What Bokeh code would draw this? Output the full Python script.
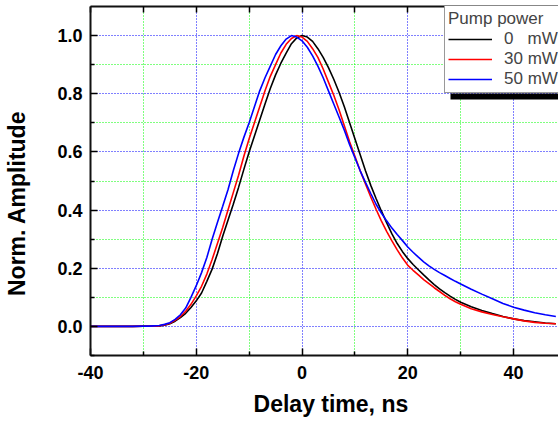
from bokeh.plotting import figure
from bokeh.models import (Range1d, FixedTicker, LinearAxis, Legend, LegendItem,
                          BoxAnnotation, CustomJSTickFormatter)
from bokeh.embed import file_html
from bokeh.resources import INLINE

# ---- data ----
delay_ns = [-40, -38, -36, -34, -32, -30, -29, -28,
            -27, -26, -25, -24, -23, -22, -21, -20, -19, -18, -17, -16, -15, -14,
            -13, -12, -11, -10, -9, -8, -7, -6, -5, -4, -3, -2, -1, 0,
            1, 2, 3, 4, 5, 6, 7, 8, 9, 10, 11, 12, 13, 14, 15, 16, 17, 18, 19, 20,
            21, 22, 23, 24, 25, 26, 27, 28, 29, 30,
            32, 34, 36, 38, 40, 42, 44, 46, 48]

amp_0mW = [0.0, 0.0, 0.0, 0.0, 0.0, 0.001, 0.001, 0.001,
           0.002, 0.004, 0.009, 0.018, 0.030, 0.045, 0.065, 0.088, 0.115, 0.155, 0.197, 0.25, 0.31, 0.365,
           0.42, 0.478, 0.54, 0.60, 0.655, 0.71, 0.765, 0.818, 0.865, 0.905, 0.94, 0.972, 0.992, 1.0,
           0.995, 0.98, 0.955, 0.925, 0.89, 0.85, 0.805, 0.755, 0.70, 0.645, 0.59, 0.535, 0.485, 0.44,
           0.397, 0.357, 0.318, 0.285, 0.257, 0.233,
           0.213, 0.195, 0.177, 0.16, 0.144, 0.129, 0.116, 0.104, 0.093, 0.083,
           0.068, 0.055, 0.044, 0.034, 0.026, 0.020, 0.016, 0.012, 0.009]

amp_30mW = [0.0, 0.0, 0.0, 0.0, 0.0, 0.001, 0.001, 0.001,
            0.002, 0.005, 0.011, 0.021, 0.034, 0.052, 0.076, 0.105, 0.138, 0.18, 0.23, 0.285, 0.34, 0.40,
            0.46, 0.52, 0.585, 0.645, 0.70, 0.755, 0.81, 0.86, 0.90, 0.94, 0.97, 0.99, 1.0, 0.995,
            0.98, 0.955, 0.925, 0.885, 0.84, 0.795, 0.745, 0.69, 0.635, 0.585, 0.535, 0.49, 0.445, 0.403,
            0.363, 0.327, 0.294, 0.263, 0.235, 0.21,
            0.193, 0.177, 0.161, 0.147, 0.133, 0.12, 0.107, 0.095, 0.085, 0.076,
            0.061, 0.05, 0.041, 0.033, 0.026, 0.019, 0.014, 0.011, 0.009]

amp_50mW = [0.0, 0.0, 0.0, 0.0, 0.0, 0.001, 0.001, 0.002,
            0.003, 0.007, 0.013, 0.024, 0.04, 0.063, 0.1, 0.14, 0.185, 0.237, 0.3, 0.357, 0.413, 0.47,
            0.535, 0.595, 0.65, 0.70, 0.755, 0.81, 0.855, 0.895, 0.935, 0.965, 0.988, 1.0, 0.995, 0.982,
            0.96, 0.93, 0.895, 0.855, 0.81, 0.765, 0.72, 0.675, 0.625, 0.58, 0.535, 0.495, 0.457, 0.42,
            0.39, 0.363, 0.338, 0.316, 0.295, 0.273,
            0.255, 0.238, 0.222, 0.208, 0.196, 0.185, 0.175, 0.165, 0.155, 0.146,
            0.128, 0.111, 0.095, 0.079, 0.066, 0.056, 0.047, 0.040, 0.034]

series_labels = ["0\u00a0\u00a0\u00a0mW", "30 mW", "50 mW"]
series_colors = ["#000000", "#ff0000", "#0000ff"]
x_major = [-40, -20, 0, 20, 40]
x_minor = [-30, -10, 10, 30]
x_top_ticks = [-40, -30, -20, -10, 0, 10, 20, 30, 40]
y_major = [0.0, 0.2, 0.4, 0.6, 0.8, 1.0]
y_minor = [-0.1, 0.1, 0.3, 0.5, 0.7, 0.9]
x_title = "\u00a0\u00a0Delay time, ns"
y_title = "Norm. Amplitude" + "\u00a0" * 7

FONT = "Liberation Sans"

p = figure(width=558, height=424, output_backend="svg", toolbar_location=None,
           x_range=Range1d(-40, 48.5), y_range=Range1d(-0.1, 1.1),
           min_border_left=90, min_border_right=0, min_border_top=6,
           min_border_bottom=69)
p.outline_line_color = None
p.background_fill_color = "white"
p.border_fill_color = "white"

xt = FixedTicker(ticks=x_major, minor_ticks=x_minor)
yt = FixedTicker(ticks=y_major, minor_ticks=y_minor)
p.xaxis.ticker = xt
p.yaxis.ticker = yt
p.xgrid.ticker = xt
p.ygrid.ticker = yt
p.xaxis.formatter = CustomJSTickFormatter(code="return tick.toFixed(0);")
p.yaxis.formatter = CustomJSTickFormatter(code="return tick.toFixed(1);")

for g in (p.xgrid, p.ygrid):
    g.grid_line_color = "#0000ff"
    g.grid_line_dash = "1 2"
    g.grid_line_width = 1
    g.minor_grid_line_color = "#00ff00"
    g.minor_grid_line_dash = "1 2"
    g.minor_grid_line_width = 1

for ax in (p.xaxis[0], p.yaxis[0]):
    ax.axis_line_width = 2
    ax.axis_line_color = "#111111"
    ax.major_tick_in = 7
    ax.major_tick_out = 0
    ax.minor_tick_in = 4
    ax.minor_tick_out = 0
    ax.major_tick_line_width = 1.5
    ax.minor_tick_line_width = 1.5
    ax.major_label_text_font = FONT
    ax.major_label_text_font_style = "bold"
    ax.major_label_text_font_size = "18px"
    ax.major_label_text_color = "#000000"
    ax.axis_label_text_font = FONT
    ax.axis_label_text_font_style = "bold"
    ax.axis_label_text_font_size = "23px"
    ax.axis_label_text_color = "#000000"
p.xaxis.major_label_standoff = 10
p.yaxis.major_label_standoff = 8
p.xaxis.axis_label = x_title
p.yaxis.axis_label = y_title
p.xaxis.axis_label_standoff = 9
p.yaxis.axis_label_standoff = 24

top = LinearAxis(ticker=FixedTicker(ticks=[], minor_ticks=x_top_ticks),
                 axis_line_width=2, axis_line_color="#111111",
                 major_tick_in=0, major_tick_out=0, minor_tick_in=6, minor_tick_out=0,
                 minor_tick_line_width=1.5, major_label_standoff=0)
p.add_layout(top, "above")

renderers = []
for ys, c in zip([amp_0mW, amp_30mW, amp_50mW], series_colors):
    r = p.line(delay_ns, ys, line_color=c, line_width=1.6)
    renderers.append(r)

# legend drop shadow
shadow = BoxAnnotation(left=360, right=520, bottom=256, top=262,
                       left_units="screen", right_units="screen",
                       bottom_units="screen", top_units="screen",
                       fill_color="black", fill_alpha=1.0, line_color=None)
p.add_layout(shadow)

legend = Legend(items=[LegendItem(label=l, renderers=[r]) for l, r in zip(series_labels, renderers)],
                location=(354, 262), title="Pump power",
                title_text_font=FONT, title_text_font_size="17px", title_text_font_style="normal",
                label_text_font=FONT, label_text_font_size="17px",
                glyph_width=44, glyph_height=20, label_height=20, label_standoff=12,
                spacing=0, padding=3, margin=0, title_standoff=0,
                border_line_color="#333333", border_line_width=1.5,
                background_fill_color="white", background_fill_alpha=1.0)
p.add_layout(legend)

open("out.html", "w").write(file_html(p, INLINE))
